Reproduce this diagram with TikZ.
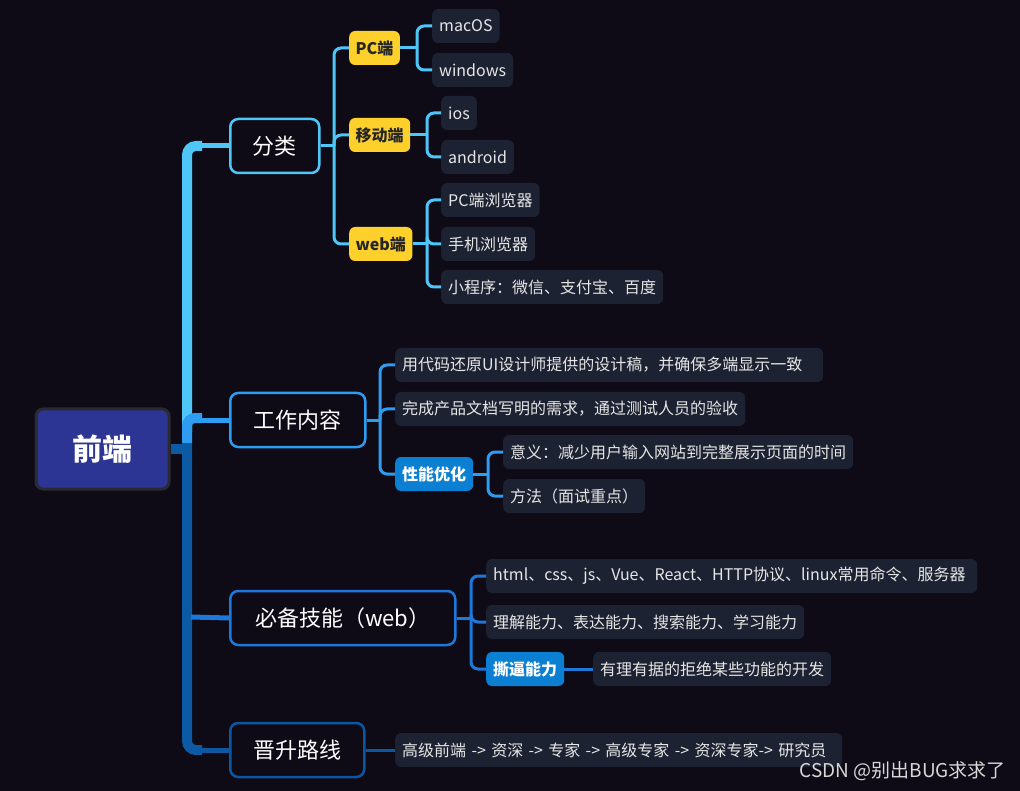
\documentclass[tikz,border=0pt]{standalone}
\usepackage{fontspec}
\setmainfont{Noto Sans CJK SC}
\definecolor{bg}{HTML}{0E0B17}
\definecolor{leafbg}{HTML}{1D2232}
\definecolor{leaftext}{HTML}{E6E6E6}
\definecolor{yel}{HTML}{FDD02C}
\definecolor{bluebox}{HTML}{0B80D2}
\definecolor{rootfill}{HTML}{2C3593}
\definecolor{rootborder}{HTML}{2A2A30}
\definecolor{cA}{HTML}{4FC6F8}
\definecolor{cB}{HTML}{2E9CF0}
\definecolor{cC}{HTML}{1D78DA}
\definecolor{cD}{HTML}{0C56A2}
\definecolor{trunkdark}{HTML}{0B5AA3}
\definecolor{wm}{HTML}{D8D8D8}
\begin{document}
\begin{tikzpicture}[x=1pt,y=-1pt,
  leaf/.style={fill=leafbg, rounded corners=6pt, text=leaftext, font=\fontsize{16}{16}\selectfont, minimum height=34pt, inner xsep=7pt, inner ysep=0pt, anchor=west},
  yelbox/.style={fill=yel, rounded corners=6pt, text=black!85, font=\bfseries\fontsize{16}{16}\selectfont, minimum height=34pt, inner xsep=6.5pt, inner ysep=0pt, anchor=west},
  blubox/.style={fill=bluebox, rounded corners=6pt, text=white, font=\bfseries\fontsize{16}{16}\selectfont, minimum height=34pt, inner xsep=7pt, inner ysep=0pt, anchor=west},
  lvlone/.style={draw, line width=2.5pt, fill=bg, rounded corners=8pt, text=white, font=\fontsize{22}{22}\selectfont, minimum height=54pt, inner sep=0pt, anchor=west},
  lineA/.style={cA, line width=3pt, rounded corners=7pt},
  lineB/.style={cB, line width=3pt, rounded corners=7pt},
  lineC/.style={cC, line width=3pt, rounded corners=7pt},
  lineD/.style={cD, line width=3pt, rounded corners=7pt},
]
\fill[bg] (0,0) rectangle (1020,791);
\useasboundingbox (0,0) rectangle (1020,791);

% root
\node[fill=rootfill, draw=rootborder, line width=3pt, rounded corners=7pt, minimum width=133pt, minimum height=80pt, text=white, font=\bfseries\fontsize{30}{30}\selectfont] (root) at (102.5,449) {前端};

% level one
\node[lvlone, draw=cA, minimum width=89pt] (fenlei) at (229,146) {分类};
\node[lvlone, draw=cB, minimum width=135pt] (gongzuo) at (229,420) {工作内容};
\node[lvlone, draw=cC, minimum width=225pt] (bibei) at (229,618) {必备技能（web）};
\node[lvlone, draw=cD, minimum width=134pt] (jinsheng) at (229,750) {晋升路线};

% trunk
\coordinate (tA) at (187,146);
\coordinate (tB) at (187,420);
\coordinate (tC) at (187,617);
\coordinate (tD) at (187,750);
\coordinate (tM) at (187,443);
\coordinate (tBot) at (187,432);
\draw[cA, line width=10pt, rounded corners=9pt] (tBot) -- (tA) -- ([xshift=15pt]tA);
\draw[cA, line width=5pt] ([xshift=12pt]tA) -- (fenlei.west);
\draw[cB, line width=10pt, rounded corners=8pt] (tM) -- ([yshift=2pt]tB) -- ([xshift=15pt,yshift=2pt]tB);
\draw[cB, line width=5pt] ([xshift=12pt]tB) -- (gongzuo.west);
\draw[trunkdark, line width=10pt, rounded corners=9pt] (tM) -- (tD) -- ([xshift=15pt]tD);
\draw[cD, line width=5pt] ([xshift=12pt]tD) -- (jinsheng.west);
\draw[cC, line width=5pt] ([xshift=4pt]tC) -- (bibei.west);
\draw[trunkdark, line width=10pt] (root.east) -- (root.east -| tM);

% 分类 subtree
\node[yelbox] (pc) at (349,48) {PC端};
\node[yelbox] (yidong) at (349,135) {移动端};
\node[yelbox] (web) at (349,244) {web端};
\node[leaf] (macos) at (432,26) {macOS};
\node[leaf] (windows) at (432,70) {windows};
\node[leaf] (ios) at (441,113) {ios};
\node[leaf] (android) at (441,157) {android};
\node[leaf] (pcb) at (441,200) {PC端浏览器};
\node[leaf] (sjb) at (441,244) {手机浏览器};
\node[leaf] (xcx) at (441,287) {小程序：微信、支付宝、百度};

\coordinate (jF) at (334,146);
\draw[lineA] (fenlei.east) -- (jF);
\draw[lineA] (jF) |- (pc.west);
\draw[lineA] (jF) |- (yidong.west);
\draw[lineA] (jF) |- (web.west);
\coordinate (jP) at (417,48);
\draw[lineA] (pc.east) -- (jP);
\draw[lineA] (jP) |- (macos.west);
\draw[lineA] (jP) |- (windows.west);
\coordinate (jY) at (427,135);
\draw[lineA] (yidong.east) -- (jY);
\draw[lineA] (jY) |- (ios.west);
\draw[lineA] (jY) |- (android.west);
\coordinate (jW) at (427,244);
\draw[lineA] (web.east) -- (jW);
\draw[lineA] (jW) |- (pcb.west);
\draw[lineA] (jW) |- (sjb.west);
\draw[lineA] (jW) |- (xcx.west);

% 工作内容 subtree
\node[leaf, text width=414pt, align=left] (gz1) at (395,365) {用代码还原UI设计师提供的设计稿，并确保多端显示一致};
\node[leaf] (gz2) at (395,409) {完成产品文档写明的需求，通过测试人员的验收};
\node[blubox] (xn) at (395,474) {性能优化};
\node[leaf] (yy) at (503,452) {意义：减少用户输入网站到完整展示页面的时间};
\node[leaf] (ff) at (503,496) {方法（面试重点）};
\coordinate (jG) at (380,420);
\draw[lineB] (gongzuo.east) -- (jG);
\draw[lineB] (jG) |- (gz1.west);
\draw[lineB] (jG) |- (gz2.west);
\draw[lineB] (jG) |- (xn.west);
\coordinate (jX) at (488,474);
\draw[lineB] (xn.east) -- (jX);
\draw[lineB] (jX) |- (yy.west);
\draw[lineB] (jX) |- (ff.west);

% 必备技能 subtree
\node[leaf, text width=477pt, align=left] (jn1) at (486,576) {html、css、js、Vue、React、HTTP协议、linux常用命令、服务器};
\node[leaf] (jn2) at (486,622) {理解能力、表达能力、搜索能力、学习能力};
\node[blubox] (sb) at (486,669) {撕逼能力};
\node[leaf] (yl) at (593,669) {有理有据的拒绝某些功能的开发};
\coordinate (jB) at (471,618);
\draw[lineC] (bibei.east) -- (jB);
\draw[lineC] (jB) |- (jn1.west);
\draw[lineC] (jB) |- (jn2.west);
\draw[lineC] (jB) |- (sb.west);
\draw[lineC] (sb.east) -- (yl.west);

% 晋升路线 subtree
\node[leaf, text width=433pt, align=left] (js1) at (395,750) {高级前端\ ->\ 资深\ ->\ 专家\ ->\ 高级专家\ ->\ 资深专家->\ 研究员};
\draw[lineD] (jinsheng.east) -- (js1.west);

% watermark
\node[anchor=east, text=wm, font=\fontsize{19}{19}\selectfont, inner sep=0pt] (wmk) at (1006,771) {CSDN @别出BUG求求了};
\end{tikzpicture}
\end{document}
